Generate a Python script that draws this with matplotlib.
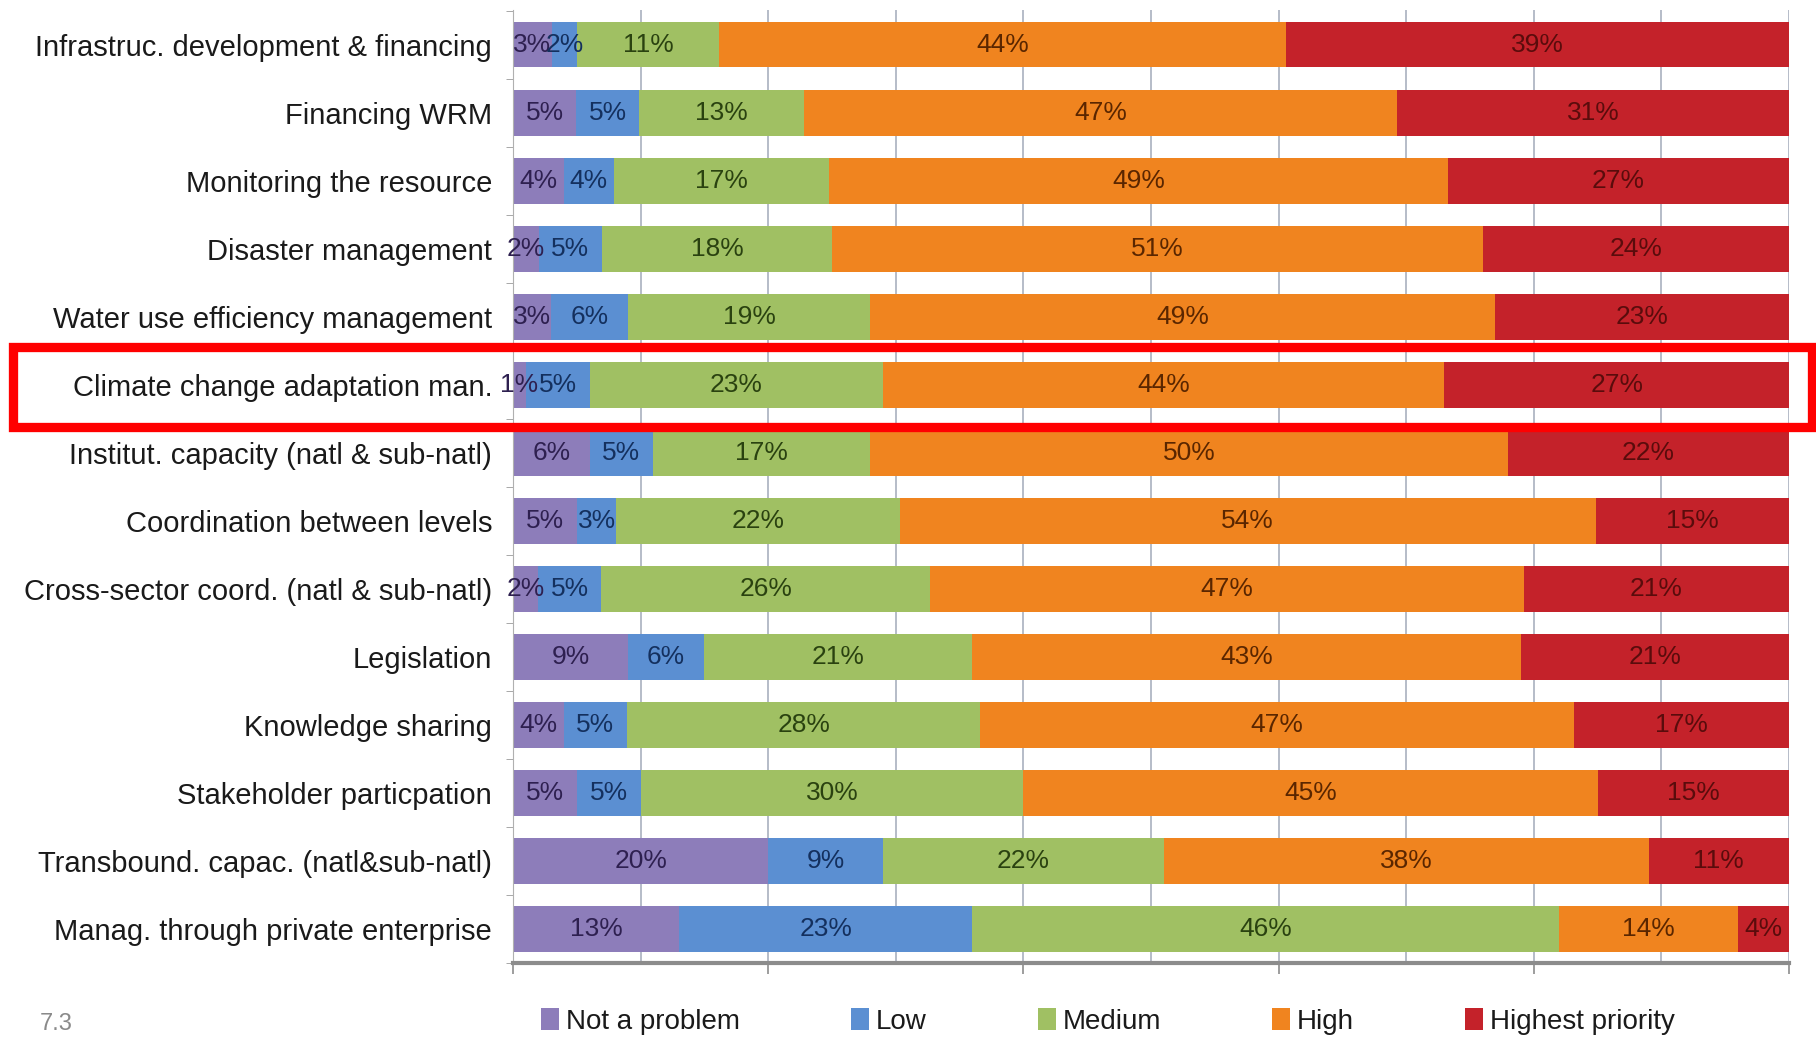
import numpy as np
import matplotlib
matplotlib.use("Agg")
from matplotlib import pyplot as plt
from matplotlib.patches import Rectangle

plt.rcParams['font.family'] = ['Liberation Sans', 'DejaVu Sans']

categories = ['Infrastruc. development & financing', 'Financing WRM', 'Monitoring the resource',
              'Disaster management', 'Water use efficiency management', 'Climate change adaptation man.',
              'Institut. capacity (natl & sub-natl)', 'Coordination between levels',
              'Cross-sector coord. (natl & sub-natl)', 'Legislation', 'Knowledge sharing',
              'Stakeholder particpation', 'Transbound. capac. (natl&sub-natl)',
              'Manag. through private enterprise']

not_a_problem = [3, 5, 4, 2, 3, 1, 6, 5, 2, 9, 4, 5, 20, 13]
low = [2, 5, 4, 5, 6, 5, 5, 3, 5, 6, 5, 5, 9, 23]
medium = [11, 13, 17, 18, 19, 23, 17, 22, 26, 21, 28, 30, 22, 46]
high = [44, 47, 49, 51, 49, 44, 50, 54, 47, 43, 47, 45, 38, 14]
highest = [39, 31, 27, 24, 23, 27, 22, 15, 21, 21, 17, 15, 11, 4]

series_names = ['Not a problem', 'Low', 'Medium', 'High', 'Highest priority']
bar_colors = ['#8d7dba', '#5b8fd2', '#a0c063', '#f0841f', '#c4222a']
text_colors = ['#2e2050', '#14305e', '#2a4210', '#5a2600', '#5a0c0c']

data = np.array([not_a_problem, low, medium, high, highest], dtype=float)
# 100% stacked: scale each row to its total
shares = data / data.sum(axis=0) * 100

fig = plt.figure(figsize=(18.16, 10.42), dpi=100)
ax = fig.add_axes([0.2825, 0.0758, 0.7026, 0.9146])

y = np.arange(len(categories))
left = np.zeros(len(categories))
for i in range(5):
    bars = ax.barh(y, shares[i], left=left, height=0.67, color=bar_colors[i],
                   label=series_names[i], zorder=2)
    ax.bar_label(bars, labels=[f'{int(v)}%' for v in data[i]], label_type='center',
                 color=text_colors[i], fontsize=19)
    left += shares[i]

ax.set_xlim(0, 100)
ax.set_ylim(13.49, -0.51)
ax.set_xticks(range(0, 101, 20))
ax.set_xticks(range(10, 100, 20), minor=True)
ax.set_xticklabels([])
ax.grid(axis='x', which='both', color='#a9b0bf', linewidth=1.2, zorder=0)
ax.tick_params(axis='x', which='major', length=8, color='#8c8c8c', width=1.2)
ax.tick_params(axis='x', which='minor', length=0)

ax.set_yticks(y)
ax.set_yticklabels(categories, fontsize=21, color='#1a1a1a')
ax.set_yticks(np.arange(-0.5, 13.6, 1), minor=True)
ax.tick_params(axis='y', which='major', length=0, pad=15)
ax.tick_params(axis='y', which='minor', length=5, color='#9a9a9a')

for s in ['top', 'right']:
    ax.spines[s].set_visible(False)
ax.spines['left'].set_color('#b0b0b0')
ax.spines['bottom'].set_color('#8c8c8c')
ax.spines['bottom'].set_linewidth(3)

fig.legend(loc='center left', bbox_to_anchor=(0.2900, 0.020), ncol=5, frameon=False,
           fontsize=20, handlelength=0.65, handleheight=0.85, handletextpad=0.25,
           columnspacing=4.0, borderpad=0, labelcolor='#1a1a1a')

fig.text(0.022, 0.017, '7.3', fontsize=17, color='#8a8a8a', va='center')

# red highlight box around the climate change row
fig.patches.append(Rectangle((0.007, 1 - 427 / 1042), 0.991, 80 / 1042, transform=fig.transFigure,
                             fill=False, edgecolor='#ff0000', linewidth=6.7, zorder=10))

fig.savefig('out.png', dpi=100)
